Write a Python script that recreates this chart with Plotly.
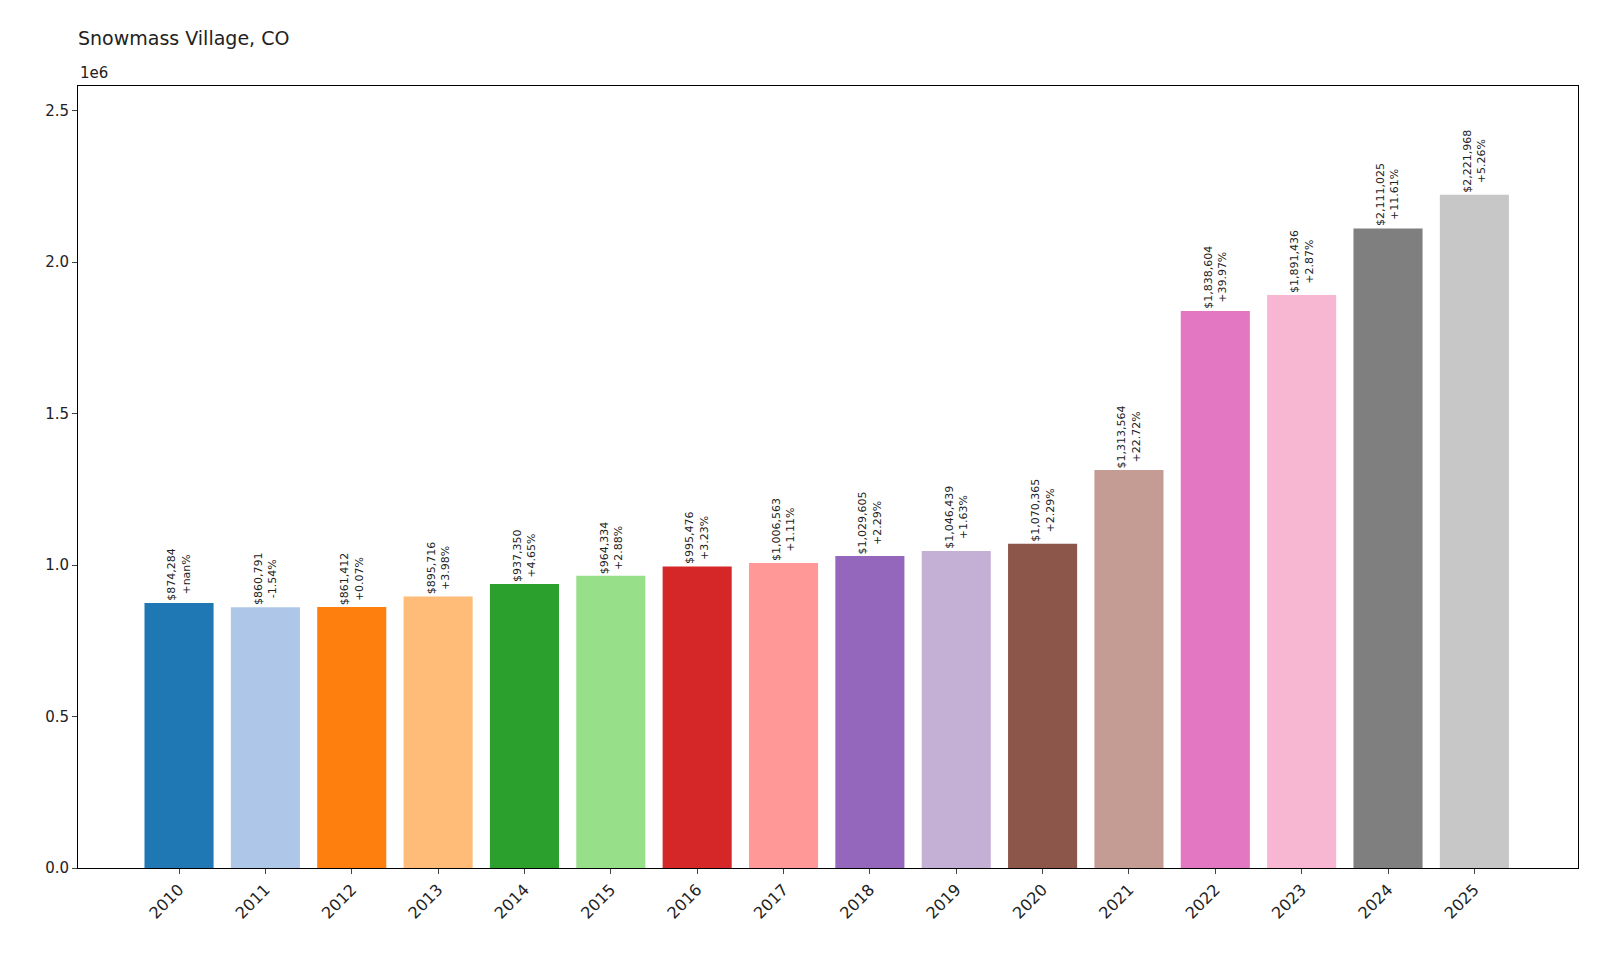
import plotly.graph_objects as go

years = list(range(2010, 2026))
values = [874284, 860791, 861412, 895716, 937350, 964334, 995476, 1006563, 1029605,
          1046439, 1070365, 1313564, 1838604, 1891436, 2111025, 2221968]
changes = ["+nan%", "-1.54%", "+0.07%", "+3.98%", "+4.65%", "+2.88%", "+3.23%", "+1.11%",
           "+2.29%", "+1.63%", "+2.29%", "+22.72%", "+39.97%", "+2.87%", "+11.61%", "+5.26%"]
colors = ["#1f77b4", "#aec7e8", "#ff7f0e", "#ffbb78", "#2ca02c", "#98df8a", "#d62728", "#ff9896",
          "#9467bd", "#c5b0d5", "#8c564b", "#c49c94", "#e377c2", "#f7b6d2", "#7f7f7f", "#c7c7c7"]
yticks = [0, 0.5e6, 1.0e6, 1.5e6, 2.0e6, 2.5e6]
yticklabels = ["0.0", "0.5", "1.0", "1.5", "2.0", "2.5"]

fig = go.Figure(go.Bar(x=years, y=values, marker_color=colors, width=0.8, marker_line_width=0))
for x, v, c in zip(years, values, changes):
    fig.add_annotation(x=x, y=v, text=f"${v:,}<br>{c}", textangle=-90, showarrow=False,
                       yanchor="bottom", yshift=0, font=dict(size=11, color="#222"))
fig.add_annotation(text="1e6", xref="paper", yref="paper", x=0, y=1, xanchor="left",
                   yanchor="bottom", yshift=2, showarrow=False, font=dict(size=15, color="#222"))
fig.update_layout(
    width=1600, height=960, plot_bgcolor="white", paper_bgcolor="white",
    margin=dict(l=70, r=30, t=78, b=100), showlegend=False,
    font=dict(family="DejaVu Sans", size=15, color="#222"),
    title=dict(text="Snowmass Village, CO", x=70/1600, xanchor="left", y=1-30/960, yanchor="middle",
               font=dict(size=19)),
    xaxis=dict(range=[2008.83, 2026.2], tickvals=years, tickangle=-45, showline=True, mirror=True,
               linecolor="black", ticks="outside", showgrid=False, tickfont=dict(size=16)),
    yaxis=dict(range=[0, 2.581e6], tickvals=yticks, ticktext=yticklabels, showline=True, mirror=True,
               linecolor="black", ticks="outside", showgrid=False, zeroline=False),
)
fig.write_html("out.html")
